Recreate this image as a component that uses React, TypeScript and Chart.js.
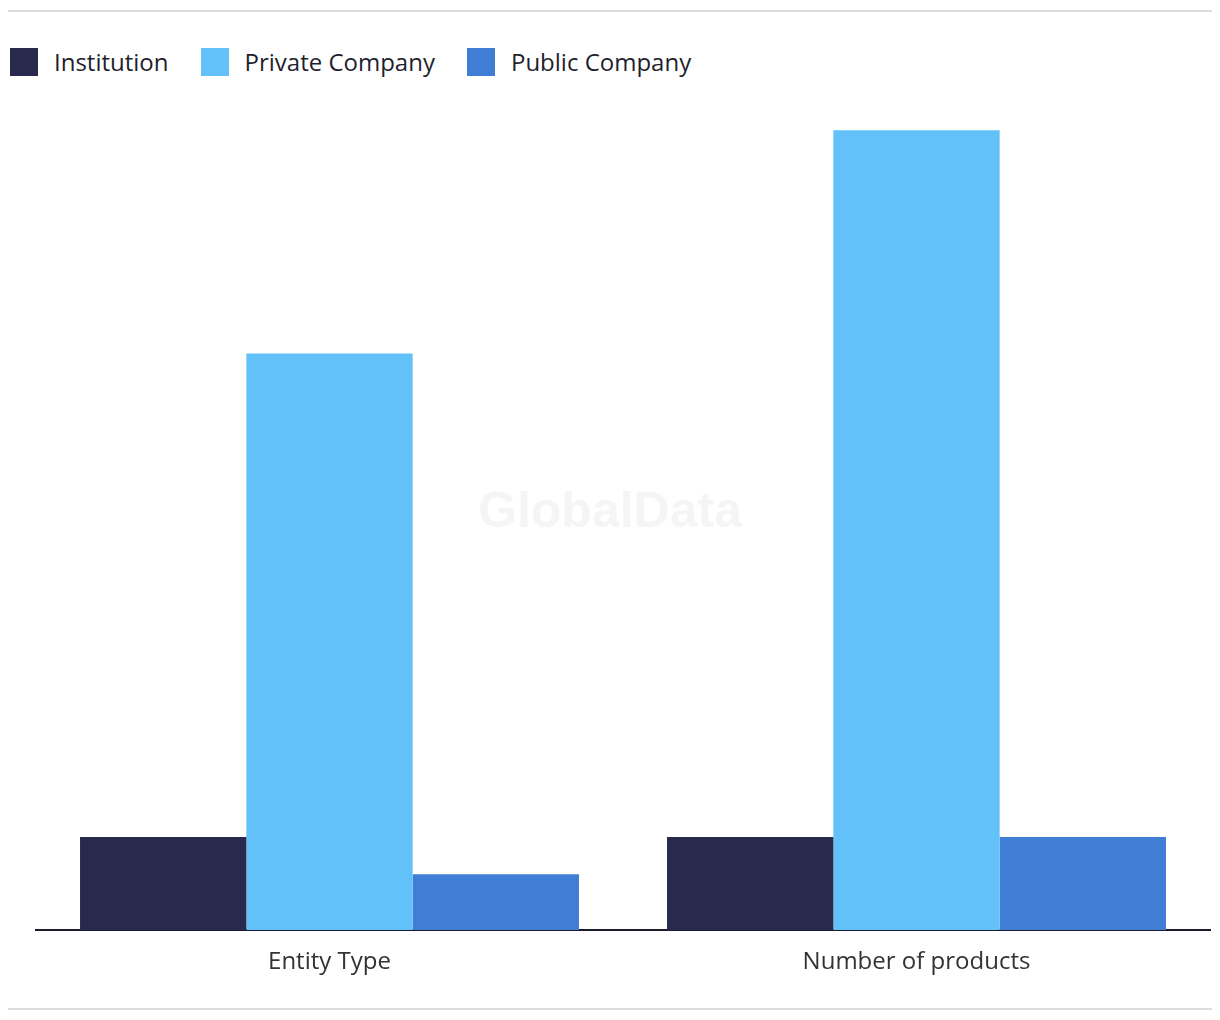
import React, { useEffect, useRef } from "react";
import { Chart, registerables } from "chart.js";

Chart.register(...registerables);

const categories = ["Entity Type", "Number of products"];
const seriesNames = ["Institution", "Private Company", "Public Company"];
const institution = [5, 5];
const privateCompany = [31, 43];
const publicCompany = [3, 5];
const seriesColors = ["#28294d", "#63c1f9", "#407ed6"];
const yMax = 45;

const FONT = "'Open Sans', 'Liberation Sans', sans-serif";

const watermark = {
  id: "watermark",
  beforeDatasetsDraw(chart: any) {
    const { ctx, width } = chart;
    ctx.save();
    ctx.font = "bold 50px 'Liberation Sans', Arial, sans-serif";
    ctx.fillStyle = "#f5f5f5";
    ctx.textAlign = "center";
    ctx.textBaseline = "middle";
    ctx.fillText("GlobalData", width / 2, 437);
    ctx.restore();
  },
};

export default function App() {
  const ref = useRef<HTMLCanvasElement | null>(null);

  useEffect(() => {
    if (!ref.current) return;
    const values = [institution, privateCompany, publicCompany];
    const chart = new Chart(ref.current, {
      type: "bar",
      data: {
        labels: categories,
        datasets: seriesNames.map((name, i) => ({
          label: name,
          data: values[i],
          backgroundColor: seriesColors[i],
          borderWidth: 0,
          barPercentage: 1,
          categoryPercentage: 0.85,
        })),
      },
      options: {
        animation: false,
        responsive: true,
        maintainAspectRatio: false,
        layout: { padding: { left: 28, right: 2, top: 17, bottom: 0 } },
        plugins: {
          legend: { display: false },
          tooltip: { enabled: false },
        },
        scales: {
          x: {
            grid: { display: false, drawTicks: false },
            border: { display: true, color: "#1b1b2f", width: 2 },
            ticks: {
              color: "#333333",
              padding: 18,
              font: { family: FONT, size: 24 },
            },
            afterFit: (s: any) => {
              s.height = 78;
            },
          },
          y: {
            display: false,
            min: 0,
            max: yMax,
          },
        },
      },
      plugins: [watermark],
    });
    return () => chart.destroy();
  }, []);

  return (
    <div style={{ paddingTop: 2 }}>
      <div
        style={{
          borderTop: "2px solid #dddddd",
          borderBottom: "2px solid #dddddd",
          fontFamily: FONT,
        }}
      >
        <div
          style={{
            display: "flex",
            alignItems: "center",
            marginTop: 36,
            height: 28,
            paddingLeft: 2,
          }}
        >
          {seriesNames.map((name, i) => (
            <div
              key={name}
              style={{ display: "flex", alignItems: "center", marginRight: 32 }}
            >
              <span
                style={{
                  display: "inline-block",
                  width: 28,
                  height: 28,
                  background: seriesColors[i],
                  marginRight: 16,
                }}
              />
              <span style={{ fontSize: 24, color: "#1f1f2e", lineHeight: "28px" }}>
                {name}
              </span>
            </div>
          ))}
        </div>
        <div style={{ position: "relative", height: 932 }}>
          <canvas ref={ref} />
        </div>
      </div>
    </div>
  );
}
